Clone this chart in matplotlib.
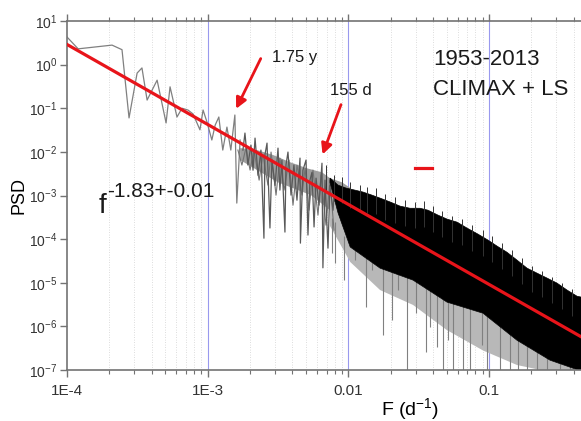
import numpy as np
import matplotlib
matplotlib.use('Agg')
import matplotlib.pyplot as plt
from matplotlib.lines import Line2D

plt.rcParams['font.family'] = ['Liberation Sans', 'DejaVu Sans']
plt.rcParams['mathtext.fontset'] = 'custom'
plt.rcParams['mathtext.rm'] = 'Liberation Sans'

# espectro de baixa frequencia (linha fina, legivel ponto a ponto)
low_f = [1.0e-4, 1.2e-4, 2.09e-4, 2.46e-4, 2.76e-4, 3.15e-4, 3.41e-4, 3.71e-4, 4.37e-4,
         5.06e-4, 5.40e-4, 6.05e-4, 6.57e-4, 7.24e-4, 7.87e-4, 8.81e-4, 9.27e-4, 9.89e-4,
         1.07e-3, 1.13e-3, 1.20e-3, 1.28e-3, 1.37e-3, 1.46e-3, 1.56e-3, 1.61e-3, 1.70e-3]
low_psd = [4.3, 2.3, 2.8, 2.2, 0.060, 0.64, 0.84, 0.154, 0.44,
           0.046, 0.31, 0.063, 0.10, 0.091, 0.074, 0.032, 0.091, 0.048,
           0.0187, 0.041, 0.063, 0.011, 0.037, 0.011, 0.070, 6.7e-4, 0.0187]

# faixa intermediaria (dois tracos em zigue-zague)
mid_f = [1.78e-3, 1.84e-3, 1.93e-3, 2.03e-3, 2.10e-3, 2.17e-3, 2.28e-3, 2.39e-3, 2.51e-3,
         2.55e-3, 2.64e-3, 2.77e-3, 2.86e-3, 3.01e-3, 3.16e-3, 3.26e-3, 3.37e-3, 3.54e-3,
         3.60e-3, 3.72e-3, 3.91e-3, 4.10e-3, 4.31e-3, 4.53e-3, 4.56e-3, 4.75e-3, 5.00e-3,
         5.16e-3, 5.33e-3, 5.51e-3, 5.70e-3, 5.89e-3, 6.18e-3, 6.49e-3, 6.59e-3, 6.82e-3,
         7.16e-3, 7.40e-3, 7.78e-3, 8.03e-3]
mid_psd = [0.011, 0.027, 5.0e-3, 0.0143, 3.8e-3, 0.0207, 2.9e-3, 0.011, 1.05e-4,
           8.5e-3, 0.0159, 1.8e-4, 6.5e-3, 1.7e-3, 0.0122, 1.33e-3, 6.5e-3, 1.45e-4,
           5.0e-3, 9.9e-3, 1.02e-3, 5.0e-3, 7.8e-4, 7.2e-3, 8.1e-5, 3.8e-3, 6.5e-3,
           1.24e-4, 2.25e-3, 3.4e-3, 1.9e-4, 2.5e-3, 6.0e-4, 5.5e-3, 2.2e-5, 2.25e-3,
           6.2e-5, 1.7e-3, 4.6e-4, 2.0e-3]
mid2_f = [1.64e-3, 1.75e-3, 1.87e-3, 2.00e-3, 2.13e-3, 2.32e-3, 2.47e-3, 2.68e-3, 2.82e-3,
          3.06e-3, 3.26e-3, 3.49e-3, 3.78e-3, 4.04e-3, 4.31e-3, 4.68e-3, 4.92e-3, 5.25e-3,
          5.60e-3, 6.08e-3, 6.39e-3, 6.93e-3, 7.40e-3, 7.90e-3]
mid2_psd = [0.011, 4.98e-3, 0.0122, 3.83e-3, 0.011, 2.25e-3, 8.5e-3, 1.73e-3, 9.9e-3,
            1.02e-3, 7.2e-3, 1.33e-3, 6.5e-3, 6.0e-4, 4.98e-3, 1.02e-3, 4.2e-3, 4.6e-4,
            3.83e-3, 3.55e-4, 2.94e-3, 2.09e-4, 2.25e-3, 1.61e-4]

# faixa cinza intermediaria
band_top_f = [1.70e-3, 2.24e-3, 2.91e-3, 3.85e-3, 5.08e-3, 6.49e-3, 7.40e-3, 9.01e-3, 1.03e-2]
band_top_psd = [0.0122, 0.011, 8.5e-3, 5.8e-3, 4.2e-3, 3.4e-3, 2.5e-3, 2.0e-3, 1.5e-3]
band_bot_f = [1.70e-3, 3.16e-3, 5.42e-3, 7.40e-3, 9.01e-3, 1.03e-2]
band_bot_psd = [6.5e-3, 2.0e-3, 1.02e-3, 4.6e-4, 2.0e-4, 8e-5]

# faixa preta densa: borda superior (vales), picos para cima e borda inferior
top_f = [7.40e-3, 8.44e-3, 9.62e-3, 1.11e-2, 1.27e-2, 1.47e-2, 1.68e-2, 1.98e-2, 2.33e-2,
         2.74e-2, 3.23e-2, 3.68e-2, 4.33e-2, 5.02e-2, 5.92e-2, 6.97e-2, 8.34e-2, 9.82e-2,
         0.114, 0.134, 0.158, 0.186, 0.219, 0.258, 0.304, 0.358, 0.422, 0.450]
top_psd = [2.51e-3, 1.73e-3, 1.48e-3, 1.33e-3, 1.20e-3, 1.02e-3, 8.7e-4, 7.1e-4, 5.7e-4,
           5.1e-4, 5.1e-4, 4.6e-4, 3.55e-4, 2.88e-4, 2.45e-4, 1.79e-4, 1.30e-4, 9.5e-5,
           6.9e-5, 5.0e-5, 3.30e-5, 2.16e-5, 1.66e-5, 1.28e-5, 9.8e-6, 6.8e-6, 4.9e-6, 4.7e-6]
peak_f = [6.93e-3, 7.90e-3, 9.01e-3, 1.03e-2, 1.21e-2, 1.36e-2, 1.57e-2, 1.82e-2, 2.14e-2,
          2.52e-2, 2.97e-2, 3.44e-2, 3.99e-2, 4.62e-2, 5.45e-2, 6.41e-2, 7.55e-2, 9.06e-2,
          0.105, 0.124, 0.146, 0.171, 0.202, 0.238, 0.280, 0.330, 0.388]
peak_psd = [4.98e-3, 2.94e-3, 2.64e-3, 2.03e-3, 1.73e-3, 1.56e-3, 1.48e-3, 1.08e-3, 9.2e-4,
            7.8e-4, 7.1e-4, 7.4e-4, 5.7e-4, 4.4e-4, 3.37e-4, 2.88e-4, 2.09e-4, 1.61e-4,
            1.17e-4, 8.1e-5, 5.6e-5, 3.66e-5, 2.40e-5, 1.85e-5, 1.34e-5, 9.8e-6, 7.1e-6]
bot_f = [7.40e-3, 8.44e-3, 1.03e-2, 1.68e-2, 2.88e-2, 5.02e-2, 9.06e-2, 0.158, 0.271, 0.45]
bot_psd = [2.0e-3, 4.0e-4, 6.6e-5, 2.16e-5, 1.15e-5, 3.6e-6, 2.0e-6, 4.8e-7, 1.68e-7, 9.5e-8]

# zona cinza abaixo da faixa preta
gray_f = [7.40e-3, 1.03e-2, 1.68e-2, 2.88e-2, 5.02e-2, 9.06e-2, 0.158, 0.271, 0.45]
gray_psd = [2.0e-4, 3.0e-5, 6.8e-6, 3.1e-6, 8.2e-7, 2.8e-7, 1.3e-7, 9e-8, 9e-8]

# picos para baixo
spike_f = [7.65e-3, 8.03e-3, 9.31e-3, 1.11e-2, 1.33e-2, 1.47e-2, 1.76e-2, 2.04e-2, 2.25e-2,
           2.61e-2, 3.02e-2, 3.56e-2, 3.80e-2, 4.26e-2, 4.70e-2, 5.10e-2, 5.54e-2, 6.53e-2,
           7.31e-2, 8.91e-2, 0.097, 0.119, 0.141, 0.160, 0.186, 0.219, 0.258, 0.319, 0.376]
spike_lo = [4.8e-5, 2.8e-5, 1.15e-5, 3.3e-5, 2.75e-6, 1.95e-5, 6.3e-7, 1.39e-6, 6.8e-6,
            9e-8, 2.0e-6, 2.56e-7, 9.6e-7, 3.3e-7, 9e-8, 4.8e-7, 9e-8, 9e-8,
            9e-8, 3.7e-7, 9e-8, 9e-8, 9e-8, 9e-8, 9e-8, 9e-8, 9e-8, 9e-8, 9e-8]
spike_hi = [3e-4, 2.5e-4, 1.2e-4, 8e-5, 5e-5, 4e-5, 3e-5, 2.5e-5, 2e-5,
            1.8e-5, 1.5e-5, 1.1e-5, 9e-6, 7e-6, 5e-6, 4e-6, 4e-6, 3e-6,
            2.5e-6, 2e-6, 1.8e-6, 1.3e-6, 8e-7, 5e-7, 4e-7, 3e-7, 2.5e-7, 2e-7, 1.5e-7]

# ajuste f^-1.83
fit_f = [1e-4, 0.45]
fit_psd = [2.9, 5.8e-7]

xticks = [1e-4, 1e-3, 1e-2, 1e-1]
xticklabels = ['1E-4', '1E-3', '0.01', '0.1']
yticks = [1e-7, 1e-6, 1e-5, 1e-4, 1e-3, 1e-2, 1e-1, 1e0, 1e1]

W, H = 581, 421
fig = plt.figure(figsize=(W / 100, H / 100), dpi=100)
ax = fig.add_axes([67 / W, 1 - 370 / H, 514 / W, 349 / H])
ax.set_xscale('log')
ax.set_yscale('log')
ax.set_xlim(1e-4, 0.45)
ax.set_ylim(1e-7, 1e1)

# grade
minors = [m * 10.0 ** e for e in range(-4, 0) for m in range(2, 10)]
for v in minors:
    ax.axvline(v, color='0.82', lw=0.6, ls=(0, (1, 2)), zorder=0)
for v in xticks[1:]:
    ax.axvline(v, color='#9999ee', lw=0.8, zorder=0.5)


def poligono(f_sup, p_sup, f_inf, p_inf, **kw):
    ax.fill(list(f_sup) + list(f_inf)[::-1], list(p_sup) + list(p_inf)[::-1], **kw)


poligono(band_top_f, band_top_psd, band_bot_f, band_bot_psd, color='0.62', lw=0, zorder=1)
poligono(bot_f, bot_psd, gray_f, gray_psd, color='0.72', lw=0, zorder=1)
ax.vlines(spike_f, spike_lo, spike_hi, color='0.5', lw=0.8, zorder=1.2)
ax.plot(low_f, low_psd, color='0.5', lw=0.9, zorder=2)
ax.plot(mid2_f, mid2_psd, color='0.45', lw=0.8, zorder=2)
ax.plot(mid_f, mid_psd, color='0.35', lw=0.9, zorder=2)
poligono(top_f, top_psd, bot_f, bot_psd, color='black', lw=0.5, zorder=2.5)
ax.vlines(peak_f, np.array(peak_psd) / 4, peak_psd, color='0.2', lw=0.7, zorder=2.5)
ax.plot(fit_f, fit_psd, color='#e8141a', lw=2.3, zorder=3)

# eixos
ax.spines['right'].set_visible(False)
for s in ['top', 'left', 'bottom']:
    ax.spines[s].set_color('0.45')
    ax.spines[s].set_linewidth(1.2)
ax.set_xticks(xticks)
ax.set_xticklabels(xticklabels)
ax.set_yticks(yticks)
ax.set_yticklabels([r'$\mathregular{10^{%d}}$' % e for e in range(-7, 2)])
ax.tick_params(axis='x', which='major', length=5, width=1, color='0.45', labelsize=11,
               labelcolor='0.2', pad=5, top=True)
ax.tick_params(axis='x', which='minor', length=3, width=0.8, color='0.45', top=True)
ax.tick_params(axis='y', which='major', length=5, width=1, color='0.45', labelsize=10,
               labelcolor='0.2', pad=2)
ax.tick_params(axis='y', which='minor', length=0)
ax.set_ylabel('PSD', fontsize=13, labelpad=1)
ax.set_xlabel(r'F (d$\mathregular{^{-1}}$)', fontsize=14)
ax.xaxis.set_label_coords((410 - 67) / 514, -0.075)

# textos e setas
fig.text(272 / W, 1 - 62 / H, '1.75 y', fontsize=12, color='0.1')
fig.text(330 / W, 1 - 95 / H, '155 d', fontsize=12, color='0.1')
fig.text(433 / W, 1 - 65 / H, '1953-2013', fontsize=16, color='0.1')
fig.text(433 / W, 1 - 95 / H, 'CLIMAX + LS', fontsize=16, color='0.1')
fig.text(99 / W, 1 - 213 / H, 'f', fontsize=20, color='0.1')
fig.text(107 / W, 1 - 197 / H, '-1.83+-0.01', fontsize=15, color='0.1')
ax.annotate('', xy=(1.56e-3, 0.085), xytext=(2.43e-3, 1.57),
            arrowprops=dict(arrowstyle='-|>', color='#e8141a', lw=2, mutation_scale=16))
ax.annotate('', xy=(6.45e-3, 7.6e-3), xytext=(9.0e-3, 0.139),
            arrowprops=dict(arrowstyle='-|>', color='#e8141a', lw=2, mutation_scale=16))
fig.add_artist(Line2D([415 / W, 432 / W], [1 - 168 / H] * 2, color='#e8141a', lw=2.3))

fig.savefig('out.png', dpi=100)
